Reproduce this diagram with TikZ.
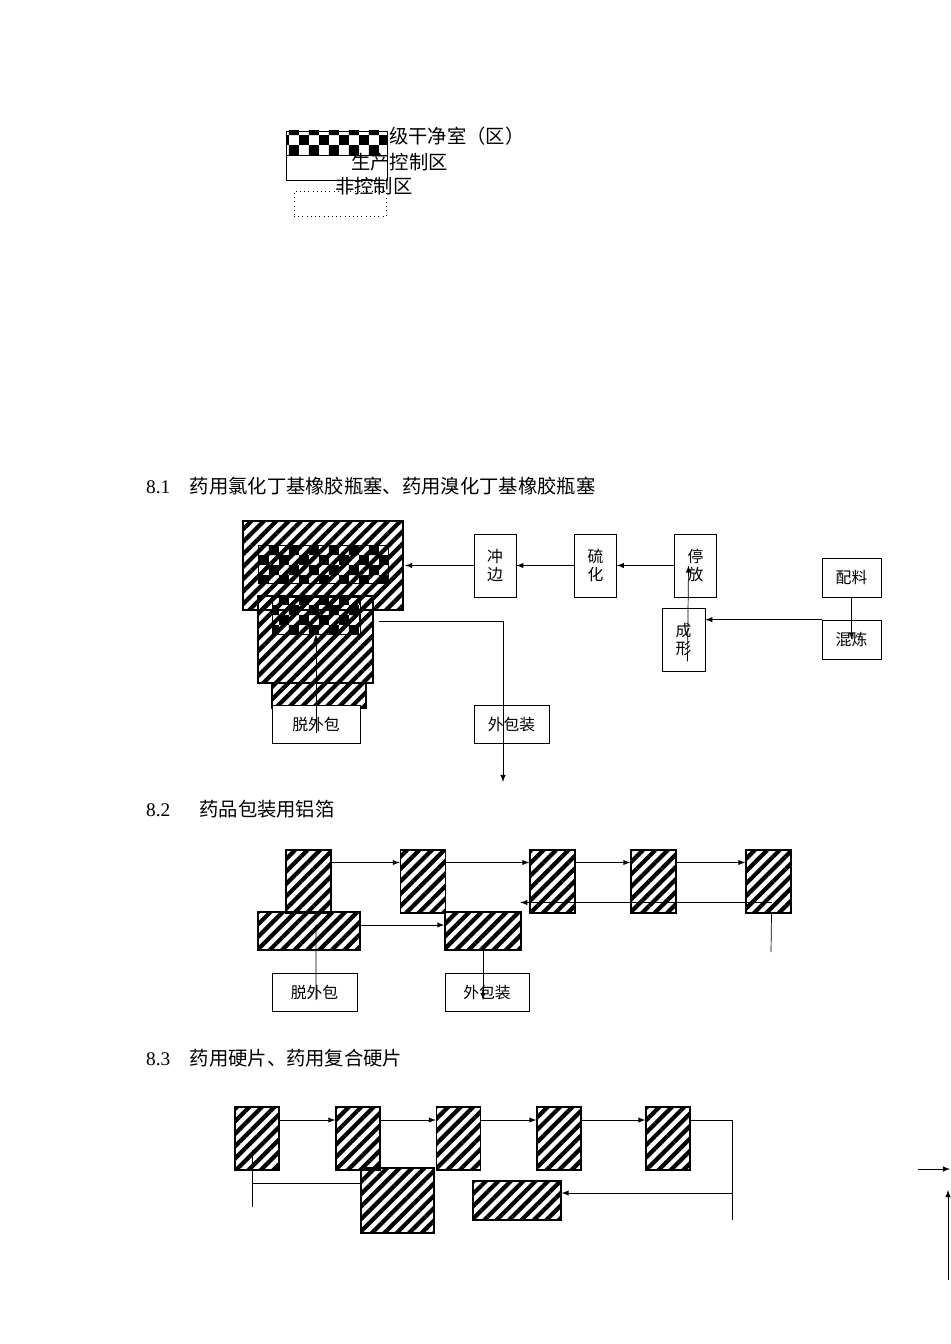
\documentclass[tikz,border=0pt]{standalone}
\usepackage{fontspec}
\setmainfont{Liberation Serif}
\newfontfamily\cjk{Noto Sans CJK SC}
\usetikzlibrary{calc}
\usetikzlibrary{patterns}
\usetikzlibrary{patterns.meta}
\tikzset{
  box/.style = {draw, rectangle, fill=white, inner sep=1pt, font=\cjk\fontsize{9}{10}\selectfont, align=center},
  hatch/.style = {draw, thick, rectangle, pattern={Lines[angle=45, distance=5pt, line width=2.4pt]}},
  checker/.style = {draw, rectangle, pattern=checkerboard},
  arr/.style = {-latex, thin},
  title/.style = {anchor=west, font=\fontsize{11}{12}\selectfont}
}
\begin{document}
\begin{tikzpicture}[x=0.02cm, y=-0.02cm]
  \useasboundingbox (0,0) rectangle (950,1344);

  % legend
  \node[box, minimum width=2.02cm, minimum height=0.5cm] (lg-w) at (336.5,167.5) {};
  \node[checker, minimum width=2.02cm, minimum height=0.48cm] (lg-c) at (336.5,143) {};
  \node[draw, dotted, minimum width=1.84cm, minimum height=0.5cm] (lg-d) at (340,203.5) {};
  \node[anchor=west, font=\cjk\fontsize{11}{12}\selectfont] (lg-t1) at (383,136) {级干净室（区）};
  \node[anchor=west, font=\cjk\fontsize{11}{12}\selectfont] (lg-t2) at (345,162) {生产控制区};
  \node[anchor=west, font=\cjk\fontsize{11}{12}\selectfont] (lg-t3) at (329,186) {非控制区};

  % 8.1
  \node[title] (t1) at (140,486) {8.1\hspace{1em}{\cjk 药用氯化丁基橡胶瓶塞、药用溴化丁基橡胶瓶塞}};
  \node[hatch, minimum width=3.2cm, minimum height=1.78cm] (A) at (323,565.5) {};
  \node[checker, minimum width=2.6cm, minimum height=0.76cm] (inA) at (323,564) {};
  \node[hatch, minimum width=1.88cm, minimum height=0.5cm] (C) at (319,695.5) {};
  \node[hatch, minimum width=2.3cm, minimum height=1.74cm] (B) at (315.5,639.5) {};
  \node[checker, minimum width=1.76cm, minimum height=0.74cm] (inB) at (316,615.5) {};
  \node[box, minimum width=1.76cm, minimum height=0.76cm] (tuo1) at (316,724) {脱外包};
  \node[box, minimum width=0.84cm, minimum height=1.26cm] (chongbian) at (495,565.5) {冲\\边};
  \node[box, minimum width=0.84cm, minimum height=1.26cm] (liuhua) at (595.5,565.5) {硫\\化};
  \node[box, minimum width=0.84cm, minimum height=1.26cm] (tingfang) at (695.5,565.5) {停\\放};
  \node[box, minimum width=1.18cm, minimum height=0.78cm] (peiliao) at (851.5,577.5) {配料};
  \node[box, minimum width=1.18cm, minimum height=0.78cm] (hunlian) at (851.5,639.5) {混炼};
  \node[box, minimum width=0.86cm, minimum height=1.26cm] (chengxing) at (683.5,639.5) {成\\形};
  \node[box, minimum width=1.5cm, minimum height=0.76cm] (bao1) at (511.5,724) {外包装};
  \coordinate (out1) at (503,782);

  \draw[arr] (chongbian.west) -- (chongbian.west -| A.east);
  \draw[arr] (liuhua.west) -- (chongbian.east);
  \draw[arr] (tingfang.west) -- (liuhua.east);
  \draw[arr] (peiliao.south) -- (hunlian.center);
  \draw[arr] (hunlian.north west) -- (hunlian.north west -| chengxing.east);
  \draw[arr] ($(chengxing.south)+(4,-10)$) -- ($(tingfang.center)+(-7,0)$);
  \draw[arr] ($(B.east)+(5,-18)$) -| (out1);
  \draw[arr] ($(tuo1.center)+(0,9)$) -- (inB.south);

  % 8.2
  \node[title] (t2) at (140,809) {8.2\hspace{1.5em}{\cjk 药品包装用铝箔}};
  \foreach \n/\x in {r1/308.5, r2/423, r3/552.5, r4/653.5, r5/768.5}
    \node[hatch, minimum width=0.9cm, minimum height=1.26cm] (\n) at (\x,881.5) {};
  \node[hatch, minimum width=2.04cm, minimum height=0.76cm] (w1) at (309,931) {};
  \node[hatch, minimum width=1.52cm, minimum height=0.76cm] (w2) at (483,931) {};
  \node[box, minimum width=1.7cm, minimum height=0.76cm] (tuo2) at (314.5,992) {脱外包};
  \node[box, minimum width=1.68cm, minimum height=0.76cm] (bao2) at (487,992) {外包装};
  \coordinate (end2) at (771,952);

  \foreach \a/\b in {r1/r2, r2/r3, r3/r4, r4/r5}
    \draw[arr] ($(\a.east)+(0,-19)$) -- ($(\b.west)+(0,-19)$);
  \draw[arr] ($(r5.center)+(3,21)$) -- ($(r3.west)+(-9,21)$);
  \draw ($(r5.south)+(3,0)$) -- (end2);
  \draw[arr] ($(w1.east)+(0,-6)$) -- ($(w2.west)+(0,-6)$);
  \draw ($(tuo2.center)+(1.5,8)$) -- ($(w1.center)+(7,-6)$);
  \draw[arr] (w2.south) -- ($(bao2.center)+(-4,8)$);

  % 8.3
  \node[title] (t3) at (140,1058) {8.3\hspace{1em}{\cjk 药用硬片、药用复合硬片}};
  \foreach \n/\x in {q1/257, q2/358, q3/458.5, q4/559, q5/668}
    \node[hatch, minimum width=0.88cm, minimum height=1.26cm] (\n) at (\x,1138.5) {};
  \node[hatch, minimum width=1.46cm, minimum height=1.3cm] (h1) at (397.5,1200.5) {};
  \node[hatch, minimum width=1.76cm, minimum height=0.78cm] (h2) at (517,1200.5) {};
  \coordinate (rt) at (732,1193);
  \coordinate (rb) at (732,1220);
  \coordinate (lt) at (252,1150);
  \coordinate (lb) at (252,1207);

  \foreach \a/\b in {q1/q2, q2/q3, q3/q4, q4/q5}
    \draw[arr] ($(\a.east)+(0,-18.5)$) -- ($(\b.west)+(0,-18.5)$);
  \draw ($(q5.east)+(0,-18.5)$) -| (rb);
  \draw[arr] (rt) -- (rt -| h2.east);
  \draw ($(h1.west)+(0,-17.5)$) -| (lt);
  \draw (lt) -- (lb);

  % right edge
  \coordinate (ra) at (918,1169);
  \coordinate (rc) at (950,1169);
  \coordinate (rd) at (948,1280);
  \coordinate (re) at (948,1190);
  \draw[arr] (ra) -- (rc);
  \draw[arr] (rd) -- (re);
\end{tikzpicture}
\end{document}
